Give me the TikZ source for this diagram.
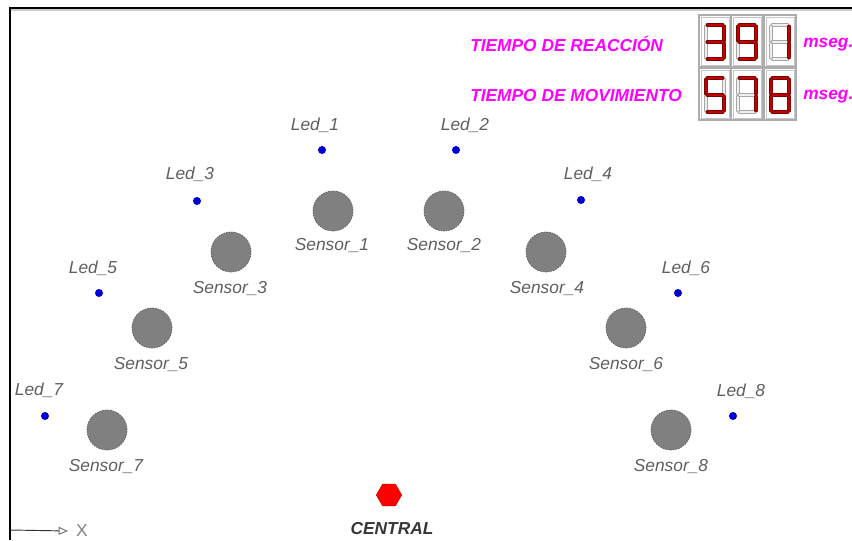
\documentclass[tikz,border=0pt]{standalone}
\usepackage{fontspec}
\setmainfont{Liberation Sans}
\usetikzlibrary{shapes.geometric,arrows.meta}
\definecolor{labgray}{RGB}{95,95,95}
\definecolor{segred}{RGB}{125,0,0}
\definecolor{segbright}{RGB}{195,0,0}
\definecolor{magtxt}{RGB}{255,0,255}
\definecolor{sensfill}{RGB}{128,128,128}
\definecolor{ledblue}{RGB}{0,0,210}
\definecolor{centraltxt}{RGB}{55,55,55}
\tikzset{
  lab/.style={text=labgray, font=\fontsize{13}{15}\selectfont\itshape, inner sep=0pt},
  ledpt/.style={circle, fill=ledblue, inner sep=0pt, minimum size=6pt},
  sensor/.style={circle, fill=sensfill, draw=black!60, dash pattern=on 1.2pt off 0.8pt, line width=0.6pt, inner sep=0pt, minimum size=30pt},
  title/.style={text=magtxt, font=\fontsize{13}{15}\selectfont\bfseries\itshape, inner sep=0pt, anchor=west},
  cellout/.style={draw=gray!65, line width=0.8pt},
  cellin/.style={draw=gray!45, line width=0.6pt},
  offseg/.style={draw=gray!70, double=gray!12, double distance=1.5pt, line width=0.7pt, line cap=round},
  onseg/.style={draw=segred, double=segbright, double distance=1.5pt, line width=0.7pt, line cap=round},
  frameline/.style={line width=1.6pt, black},
}
\def\segA#1{\draw[#1] (8.5,10)--(23.5,10);}
\def\segB#1{\draw[#1] (25,11.5)--(25,25.5);}
\def\segC#1{\draw[#1] (25,28.5)--(25,42.5);}
\def\segD#1{\draw[#1] (8.5,44)--(23.5,44);}
\def\segE#1{\draw[#1] (7,28.5)--(7,42.5);}
\def\segF#1{\draw[#1] (7,11.5)--(7,25.5);}
\def\segG#1{\draw[#1] (8.5,27)--(23.5,27);}
\newcommand\sevdigit[3]{%
  \begin{scope}[shift={(#1,#2)}]
    \draw[cellout] (0,0) rectangle (32,52);
    \draw[cellin] (2,2) rectangle (30,50);
    \foreach \s in {A,B,C,D,E,F,G}{\csname seg\s\endcsname{offseg}}
    \foreach \s in {#3}{\csname seg\s\endcsname{onseg}}
  \end{scope}}
\begin{document}
\begin{tikzpicture}[x=0.75pt,y=-0.75pt]
\useasboundingbox (0,0) rectangle (852,540);
\fill[white] (0,0) rectangle (852,540);
% frame
\draw[gray!40, line width=0.8pt] (11,10) -- (852,10);
\draw[frameline] (10,540) -- (10,8) -- (852,8);

% titles
\node[title] (treac) at (470,44) {TIEMPO DE REACCIÓN};
\node[title] (tmov) at (470,96) {TIEMPO DE MOVIMIENTO};
\node[title] (ms1) at (803,45) {mseg.};
\node[title] (ms2) at (803,97) {mseg.};

% seven segment displays
\sevdigit{699}{15}{A,B,C,D,G}
\sevdigit{731}{15}{A,B,C,D,F,G}
\sevdigit{764}{15}{B,C}
\sevdigit{699}{68}{A,C,D,F,G}
\sevdigit{731}{68}{A,B,C}
\sevdigit{764}{68}{A,B,C,D,E,F,G}

% leds
\node[ledpt] (led1) at (322,150) {};
\node[ledpt] (led2) at (456,150) {};
\node[ledpt] (led3) at (197,201) {};
\node[ledpt] (led4) at (581,200) {};
\node[ledpt] (led5) at (99,293) {};
\node[ledpt] (led6) at (678,293) {};
\node[ledpt] (led7) at (45,416) {};
\node[ledpt] (led8) at (733,416) {};
\node[lab] (l1) at (315,125) {Led\_1};
\node[lab] (l2) at (465,125) {Led\_2};
\node[lab] (l3) at (190,174) {Led\_3};
\node[lab] (l4) at (588,174) {Led\_4};
\node[lab] (l5) at (93,268) {Led\_5};
\node[lab] (l6) at (686,268) {Led\_6};
\node[lab] (l7) at (39,390) {Led\_7};
\node[lab] (l8) at (741,391) {Led\_8};

% sensors
\node[sensor] (s1) at (333,211) {};
\node[sensor] (s2) at (444,211) {};
\node[sensor] (s3) at (231,252) {};
\node[sensor] (s4) at (546,252) {};
\node[sensor] (s5) at (152,328) {};
\node[sensor] (s6) at (626,328) {};
\node[sensor] (s7) at (107,430) {};
\node[sensor] (s8) at (671,430) {};
\node[lab] (sl1) at (332,245) {Sensor\_1};
\node[lab] (sl2) at (444,245) {Sensor\_2};
\node[lab] (sl3) at (230,288) {Sensor\_3};
\node[lab] (sl4) at (547,288) {Sensor\_4};
\node[lab] (sl5) at (151,364) {Sensor\_5};
\node[lab] (sl6) at (626,364) {Sensor\_6};
\node[lab] (sl7) at (106,466) {Sensor\_7};
\node[lab] (sl8) at (671,466) {Sensor\_8};

% central
\node[regular polygon, regular polygon sides=6, fill=red, draw=red!85!black, line width=0.4pt, inner sep=0pt, minimum size=19pt] (central) at (389,495) {};
\node[inner sep=0pt, text=centraltxt, font=\fontsize{13}{15}\selectfont\bfseries\itshape] (centrallab) at (392,529) {CENTRAL};

% axis
\coordinate (ax0) at (10,530);
\node[inner sep=0pt, text=gray, font=\fontsize{13}{15}\selectfont] (xlab) at (82,531) {X};
\draw[line width=0.7pt, black!80, -{Triangle[open, length=7pt, width=6pt, color=gray!90!black]}] (ax0) -- ([xshift=-6pt]xlab.west);
\end{tikzpicture}
\end{document}
